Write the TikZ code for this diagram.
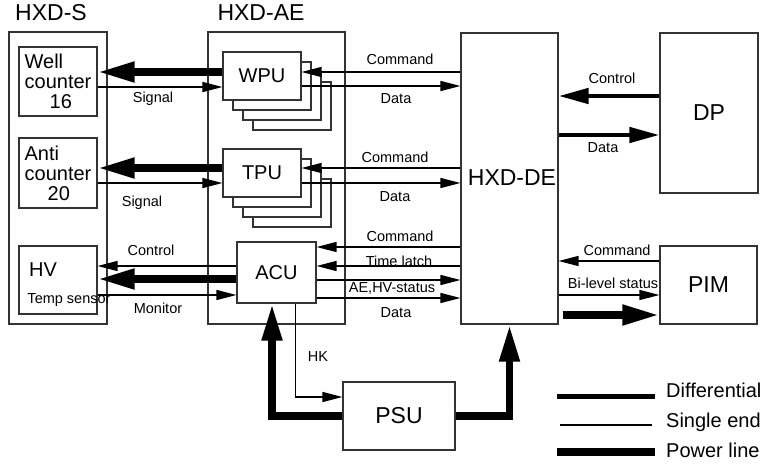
\documentclass[tikz,border=0pt]{standalone}
\usepackage{fontspec}
\setmainfont{Liberation Sans}
\usetikzlibrary{arrows.meta}
\tikzstyle{box}=[draw=black!80, line width=1.1pt, fill=white, inner sep=0pt]
\tikzstyle{stackbox}=[draw=black!80, line width=1.1pt, fill=white]
\tikzstyle{single}=[draw=black, line width=1.3pt, -{Triangle[length=20pt,width=10pt]}]
\tikzstyle{diffline}=[draw=black, line width=4.5pt, -{Triangle[length=30pt,width=15pt]}]
\tikzstyle{powerline}=[draw=black, line width=7.5pt, -{Triangle[length=37pt,width=19pt]}]
\tikzstyle{lbl}=[inner sep=0pt, font=\fontsize{14.5}{16}\selectfont]
\tikzstyle{title}=[inner sep=0pt, font=\fontsize{23}{26}\selectfont]
\tikzstyle{unit}=[font=\fontsize{20}{20}\selectfont]
\tikzstyle{bigunit}=[font=\fontsize{23}{26}\selectfont]

\begin{document}
\begin{tikzpicture}[x=1pt, y=-1pt]
	\useasboundingbox (0,0) rectangle (762,466);
	% titles
	\node [style=title] (stitle) at (51,13) {HXD-S};
	\node [style=title] (aetitle) at (261,13) {HXD-AE};
	% HXD-S
	\node [box, minimum width=98pt, minimum height=292pt] (S) at (58,178) {};
	\node [box, unit, minimum width=78pt, minimum height=69pt, align=left] (Well) at (58,81.5) {Well\\counter\\\hspace*{25pt}16};
	\node [box, unit, minimum width=78pt, minimum height=70pt, align=left] (Anti) at (58,173) {Anti\\counter\\\hspace*{23pt}20};
	\node [box, minimum width=78pt, minimum height=68pt] (HV) at (58,280) {};
	\node [unit, inner sep=0pt] (hvtext) at (43,270) {HV};
	\node [style=lbl] (temp) at (69,300) {Temp sensor};
	% HXD-AE
	\node [box, fill=none, minimum width=137pt, minimum height=292pt] (AE) at (276.5,178) {};
	\foreach \d in {30,20,10} {
		\draw [style=stackbox] (223+\d,52+\d) rectangle ++(78,48);
		\draw [style=stackbox] (223+\d,149+\d) rectangle ++(78,48);
	}
	\node [box, unit, minimum width=78pt, minimum height=48pt] (WPU) at (262,76) {WPU};
	\node [box, unit, minimum width=78pt, minimum height=48pt] (TPU) at (262,173) {TPU};
	\node [box, unit, minimum width=79pt, minimum height=61pt] (ACU) at (276.5,272.5) {ACU};
	% HXD-DE and others
	\node [box, minimum width=97pt, minimum height=291pt] (DE) at (509.5,178.5) {};
	\node [bigunit, inner sep=0pt] (detext) at (512,178) {HXD-DE};
	\node [box, bigunit, minimum width=98pt, minimum height=160pt] (DP) at (709,113) {DP};
	\node [box, bigunit, minimum width=97pt, minimum height=78pt] (PIM) at (708.5,285) {PIM};
	\node [box, bigunit, minimum width=112pt, minimum height=68pt] (PSU) at (399,416) {PSU};

	% HXD-S <-> HXD-AE
	\draw [style=powerline] (WPU.west |- 0,72) -- (Well.east |- 0,72);
	\draw [style=single] (Well.east |- 0,87) -- (WPU.west |- 0,87);
	\draw [style=powerline] (TPU.west |- 0,168) -- (Anti.east |- 0,168);
	\draw [style=single] (Anti.east |- 0,183) -- (TPU.west |- 0,183);
	\draw [style=single] (ACU.west |- 0,266) -- (HV.east |- 0,266);
	\draw [style=powerline] (ACU.west |- 0,279) -- (HV.east |- 0,279);
	\draw [style=single] (HV.east |- 0,295) -- (ACU.west |- 0,295);
	\node [style=lbl] (sig1) at (153,99) {Signal};
	\node [style=lbl] (sig2) at (142,203) {Signal};
	\node [style=lbl] (ctl1) at (151,250) {Control};
	\node [style=lbl] (mon) at (158,308) {Monitor};

	% HXD-AE <-> HXD-DE
	\draw [style=single] (DE.west |- 0,72) -- (WPU.east |- 0,72);
	\draw [style=single] (WPU.east |- 0,86) -- (DE.west |- 0,86);
	\draw [style=single] (DE.west |- 0,168) -- (TPU.east |- 0,168);
	\draw [style=single] (TPU.east |- 0,183) -- (DE.west |- 0,183);
	\draw [style=single] (DE.west |- 0,247) -- (ACU.east |- 0,247);
	\draw [style=single] (DE.west |- 0,266) -- (ACU.east |- 0,266);
	\draw [style=single] (ACU.east |- 0,280) -- (DE.west |- 0,280);
	\draw [style=single] (ACU.east |- 0,298) -- (DE.west |- 0,298);
	\node [style=lbl] (cmd1) at (400,59) {Command};
	\node [style=lbl] (dat1) at (396,99) {Data};
	\node [style=lbl] (cmd2) at (395,157) {Command};
	\node [style=lbl] (dat2) at (395,197) {Data};
	\node [style=lbl] (cmd3) at (400,236) {Command};
	\node [style=lbl] (tl) at (399,261) {Time latch};
	\node [style=lbl] (st) at (392,288) {AE,HV-status};
	\node [style=lbl] (dat3) at (396,313) {Data};

	% HXD-DE <-> DP, PIM
	\draw [style=diffline] (DP.west |- 0,96) -- (DE.east |- 0,96);
	\draw [style=diffline] (DE.east |- 0,135) -- (DP.west |- 0,135);
	\draw [style=single] (PIM.west |- 0,261) -- (DE.east |- 0,261);
	\draw [style=single] (DE.east |- 0,295) -- (PIM.west |- 0,295);
	\draw [style=powerline] ([xshift=4pt]DE.east |- 0,315) -- (PIM.west |- 0,315);
	\node [style=lbl] (ctl2) at (612,78) {Control};
	\node [style=lbl] (dat4) at (603,148) {Data};
	\node [style=lbl] (cmd4) at (617,250) {Command};
	\node [style=lbl] (bl) at (613,283) {Bi-level status};

	% PSU
	\draw [style=powerline] (PSU.west) -| ([xshift=-4.5pt]ACU.south);
	\draw [style=powerline] (PSU.east) -| (DE.south);
	\draw [style=single] ([xshift=19pt]ACU.south) |- (PSU.west |- 0,397);
	\node [style=lbl] (hk) at (318,357) {HK};

	% legend
	\coordinate (d1) at (557,396);
	\coordinate (d2) at (655,396);
	\coordinate (s1) at (560,425);
	\coordinate (s2) at (652,425);
	\coordinate (p1) at (557,452);
	\coordinate (p2) at (655,452);
	\draw [line width=5pt] (d1) -- (d2);
	\draw [line width=1.3pt] (s1) -- (s2);
	\draw [line width=8pt] (p1) -- (p2);
	\node [unit, anchor=west, inner sep=0pt] (ldiff) at (666,390) {Differential};
	\node [unit, anchor=west, inner sep=0pt] (lsing) at (666,422) {Single end};
	\node [unit, anchor=west, inner sep=0pt] (lpow) at (666,450) {Power line};
\end{tikzpicture}
\end{document}
